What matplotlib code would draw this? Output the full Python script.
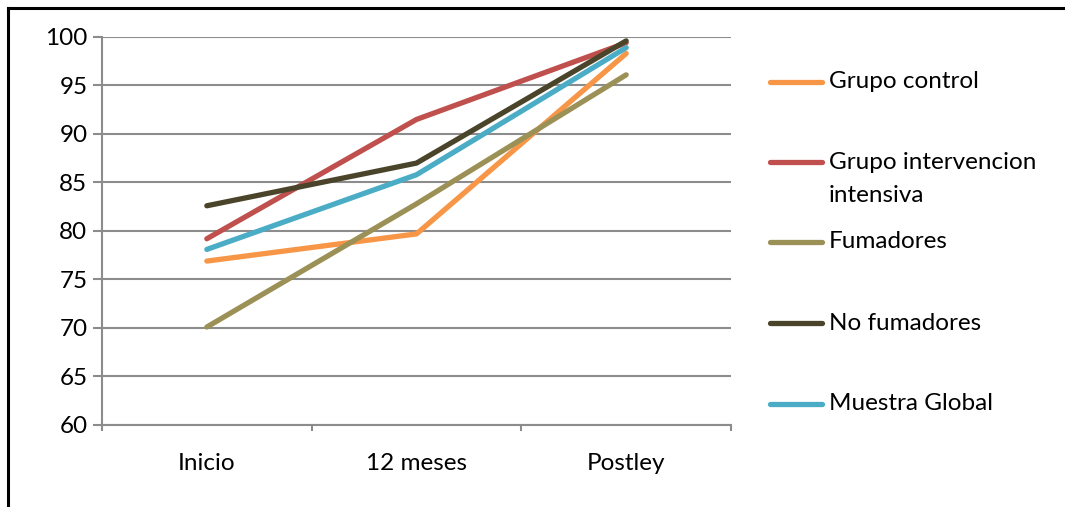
import matplotlib
matplotlib.use("Agg")
import matplotlib.pyplot as plt
from matplotlib.lines import Line2D

categorias = ["Inicio", "12 meses", "Postley"]
series = [
    "Grupo control",
    "Grupo intervencion\nintensiva",
    "Fumadores",
    "No fumadores",
    "Muestra Global",
]
grupo_control = [76.9, 79.7, 98.3]
intervencion = [79.2, 91.5, 99.4]
fumadores = [70.1, 82.8, 96.1]
no_fumadores = [82.6, 87.0, 99.6]
muestra_global = [78.1, 85.8, 98.9]
colores = ["#F79646", "#C0504D", "#9B9157", "#4A452A", "#4BACC6"]

plt.rcParams["font.family"] = ["Lato", "DejaVu Sans"]
FS = 17.5

fig = plt.figure(figsize=(10.65, 5.07), dpi=100)
ax = fig.add_axes([102 / 1065, 1 - 425 / 507, 629 / 1065, 388 / 507])

valores = [grupo_control, intervencion, fumadores, no_fumadores, muestra_global]
x = list(range(len(categorias)))
for vals, col in zip(valores, colores):
    ax.plot(x, vals, color=col, linewidth=3.8, solid_capstyle="round", zorder=3)

ax.set_xlim(-0.5, 2.5)
ax.set_ylim(60, 100)
ax.set_yticks(range(60, 101, 5))
ax.yaxis.grid(True, color="#8c8c8c", linewidth=1.5)
ax.set_axisbelow(True)

# marcas en los limites de categoria, etiquetas en el centro
ax.set_xticks([-0.5, 0.5, 1.5, 2.5])
ax.set_xticklabels([])
ax.set_xticks(x, minor=True)
ax.set_xticklabels(categorias, minor=True)
ax.tick_params(axis="x", which="major", length=4, width=1.5, color="#8c8c8c", direction="out")
ax.tick_params(axis="x", which="minor", length=0, pad=20, labelsize=FS)
ax.tick_params(axis="y", length=6.5, width=1.5, color="#8c8c8c", labelsize=FS, pad=4)

for s in ["top", "right"]:
    ax.spines[s].set_visible(False)
for s in ["left", "bottom"]:
    ax.spines[s].set_color("#8c8c8c")
    ax.spines[s].set_linewidth(1.5)

# leyenda manual (la segunda entrada ocupa dos lineas)
ys_leyenda = [82, 162, 242, 323, 404]
for nombre, col, yp in zip(series, colores, ys_leyenda):
    yf = 1 - yp / 507
    fig.add_artist(Line2D([770 / 1065, 822 / 1065], [yf, yf], color=col,
                          linewidth=3.8, solid_capstyle="round"))
    for i, linea in enumerate(nombre.split("\n")):
        fig.text(829 / 1065, 1 - (yp + 33 * i) / 507, linea, fontsize=FS, va="center")

# marco exterior (solo arriba e izquierda visibles)
fig.add_artist(Line2D([8 / 1065, 8 / 1065], [0, 1 - 8 / 507], color="black", linewidth=2.2))
fig.add_artist(Line2D([8 / 1065, 1], [1 - 8 / 507, 1 - 8 / 507], color="black", linewidth=2.2))

fig.savefig("out.png", dpi=100)
